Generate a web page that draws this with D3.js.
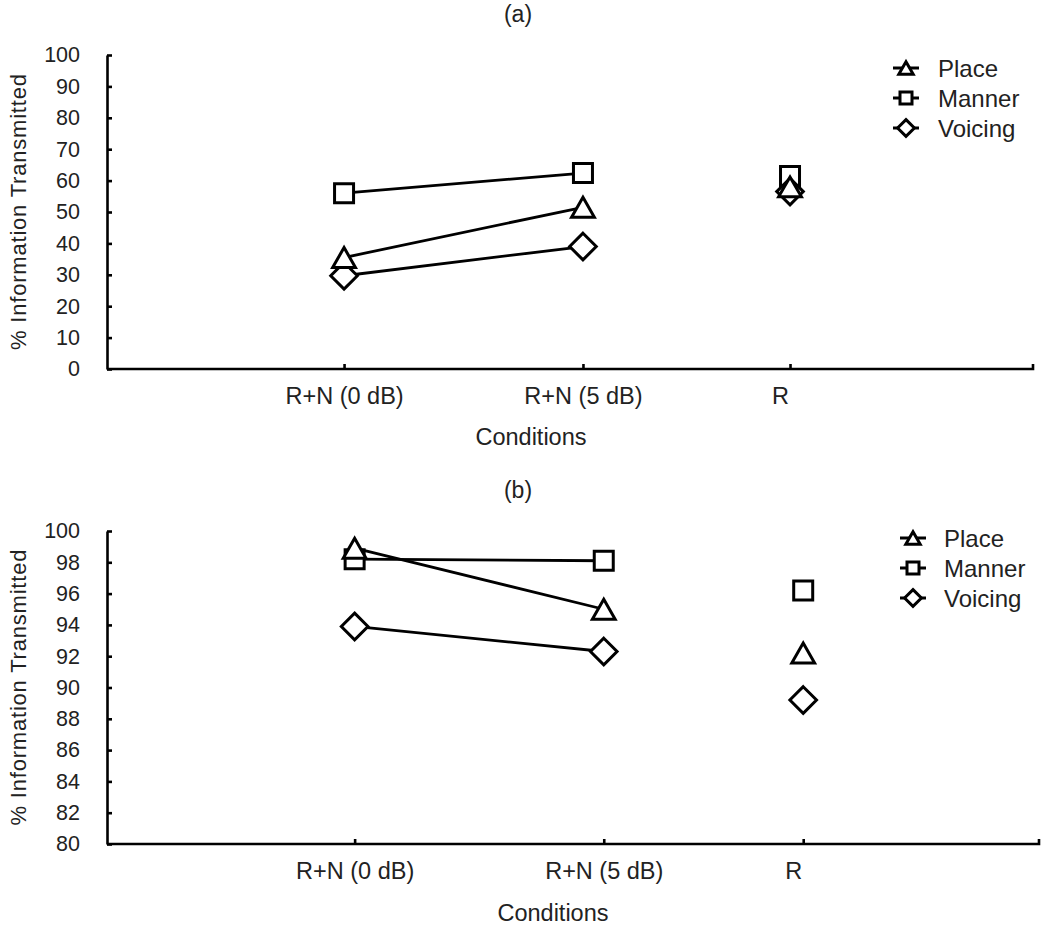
<!DOCTYPE html>
<html>
<head>
<meta charset="utf-8">
<script src="https://cdn.jsdelivr.net/npm/d3@7"></script>
<style>
  html, body { margin: 0; padding: 0; background: #fff; }
  svg { display: block; }
  text { font-family: "Liberation Sans", Arial, sans-serif; fill: #222; }
</style>
</head>
<body>
<svg id="chart" width="1050" height="934"></svg>
<script>
// ---------- data ----------
const categories = ["R+N (0 dB)", "R+N (5 dB)", "R"];
const linkedCategories = ["R+N (0 dB)", "R+N (5 dB)"];
const seriesNames = ["Place", "Manner", "Voicing"];
const seriesShapes = ["triangle", "square", "diamond"];

const placeA   = [35.5, 51.5, 58.0];
const mannerA  = [56.0, 62.4, 61.5];
const voicingA = [29.7, 39.0, 56.5];

const placeB   = [98.9, 95.0, 92.2];
const mannerB  = [98.2, 98.1, 96.2];
const voicingB = [93.9, 92.3, 89.2];

const yTicksA = [0, 10, 20, 30, 40, 50, 60, 70, 80, 90, 100];
const yTicksB = [80, 82, 84, 86, 88, 90, 92, 94, 96, 98, 100];

const titleA = "(a)", titleB = "(b)";
const yLabel = "% Information Transmitted";
const xLabel = "Conditions";

// ---------- marker shapes ----------
function shapePath(shape, s) {
  const p = d3.path();
  if (shape === "square") {
    p.rect(-s, -s, 2 * s, 2 * s);
  } else if (shape === "triangle") {
    const w = s * 1.2, h = s * 1.05;
    p.moveTo(0, -h); p.lineTo(w, h); p.lineTo(-w, h); p.closePath();
  } else {
    const w = s * 1.4, h = s * 1.4;
    p.moveTo(0, -h); p.lineTo(w, 0); p.lineTo(0, h); p.lineTo(-w, 0); p.closePath();
  }
  return p.toString();
}

const svg = d3.select("#chart");

function drawPanel(cfg) {
  const g = svg.append("g");
  const { x0, x1, yTop, yBot, fracs, domain, ticks, series } = cfg;

  const x = d3.scaleOrdinal().domain(categories)
    .range(fracs.map(f => x0 + f * (x1 - x0)));
  const y = d3.scaleLinear().domain(domain).range([yBot, yTop]);

  // title
  g.append("text").attr("x", cfg.titleX).attr("y", cfg.titleY)
    .attr("text-anchor", "middle").style("font-size", "23px").text(cfg.title);

  // y axis
  const ya = g.append("g").attr("transform", `translate(${x0},0)`)
    .call(d3.axisLeft(y).tickValues(ticks).tickSize(-5).tickSizeOuter(0).tickPadding(27)
      .tickFormat(d3.format("d")));
  ya.select(".domain").attr("stroke", "#000").attr("stroke-width", 2.6);
  ya.selectAll(".tick line").attr("stroke", "#000").attr("stroke-width", 2.6);
  ya.selectAll(".tick text").style("font-size", "21.5px").attr("fill", "#222")
    .style("font-family", "'Liberation Sans', Arial, sans-serif");

  // x axis
  const xa = g.append("g").attr("transform", `translate(0,${yBot})`)
    .call(d3.axisBottom(x).tickSize(-5).tickPadding(18));
  xa.select(".domain").remove();
  xa.selectAll(".tick line").attr("stroke", "#000").attr("stroke-width", 2.6);
  xa.selectAll(".tick text").style("font-size", "23.5px").attr("fill", "#222")
    .style("font-family", "'Liberation Sans', Arial, sans-serif")
    .attr("dx", d => d === "R" ? -10 : 0);
  g.append("path")
    .attr("d", `M${x0},${yBot}H${x1}V${yBot - 5}`)
    .attr("fill", "none").attr("stroke", "#000").attr("stroke-width", 2.6);

  // axis labels
  g.append("text")
    .attr("transform", `translate(${cfg.yLabelX},${(yTop + yBot) / 2}) rotate(-90)`)
    .attr("text-anchor", "middle").style("font-size", "22px")
    .attr("textLength", 276).attr("lengthAdjust", "spacing")
    .text(yLabel);
  g.append("text").attr("x", cfg.xLabelX).attr("y", cfg.xLabelY)
    .attr("text-anchor", "middle").style("font-size", "23.5px").text(xLabel);

  // lines
  const line = d3.line().x(d => x(d.c)).y(d => y(d.v));
  series.forEach((vals) => {
    const pts = categories.map((c, k) => ({ c, v: vals[k] }))
      .filter(d => linkedCategories.includes(d.c));
    g.append("path").datum(pts).attr("d", line)
      .attr("fill", "none").attr("stroke", "#000").attr("stroke-width", 2.8);
  });

  // markers
  const order = [1, 2, 0];
  order.forEach(i => {
    const vals = series[i];
    g.selectAll(null).data(categories.map((c, k) => ({ c, v: vals[k] })))
      .join("path")
      .attr("transform", d => `translate(${x(d.c)},${y(d.v)})`)
      .attr("d", shapePath(seriesShapes[i], 9.5))
      .attr("fill", "#fff").attr("stroke", "#000").attr("stroke-width", 3)
      .attr("stroke-linejoin", "miter");
  });

  // legend
  const lg = g.append("g").attr("transform", `translate(${cfg.legX},${cfg.legY})`);
  seriesNames.forEach((name, i) => {
    const row = lg.append("g").attr("transform", `translate(0,${i * cfg.legStep})`);
    row.append("line").attr("x1", -13).attr("x2", 13).attr("y1", 0).attr("y2", 0)
      .attr("stroke", "#000").attr("stroke-width", 3);
    row.append("path").attr("d", shapePath(seriesShapes[i], 6))
      .attr("fill", "#fff").attr("stroke", "#000").attr("stroke-width", 3);
    row.append("text").attr("x", cfg.legTextDx).attr("y", 0).attr("dy", "0.36em")
      .style("font-size", "24px").text(name);
  });
}

drawPanel({
  x0: 107, x1: 1033, yTop: 55, yBot: 369,
  fracs: [0.256, 0.514, 0.7376],
  domain: [0, 100], ticks: yTicksA,
  series: [placeA, mannerA, voicingA],
  title: titleA, titleX: 518, titleY: 22,
  yLabelX: 26, xLabelX: 531, xLabelY: 445,
  legX: 906, legY: 68, legStep: 30, legTextDx: 32
});

drawPanel({
  x0: 107, x1: 1039, yTop: 531, yBot: 844,
  fracs: [0.2657, 0.533, 0.747],
  domain: [80, 100], ticks: yTicksB,
  series: [placeB, mannerB, voicingB],
  title: titleB, titleX: 518, titleY: 498,
  yLabelX: 26, xLabelX: 553, xLabelY: 921,
  legX: 913, legY: 538, legStep: 30, legTextDx: 31
});
</script>
</body>
</html>
